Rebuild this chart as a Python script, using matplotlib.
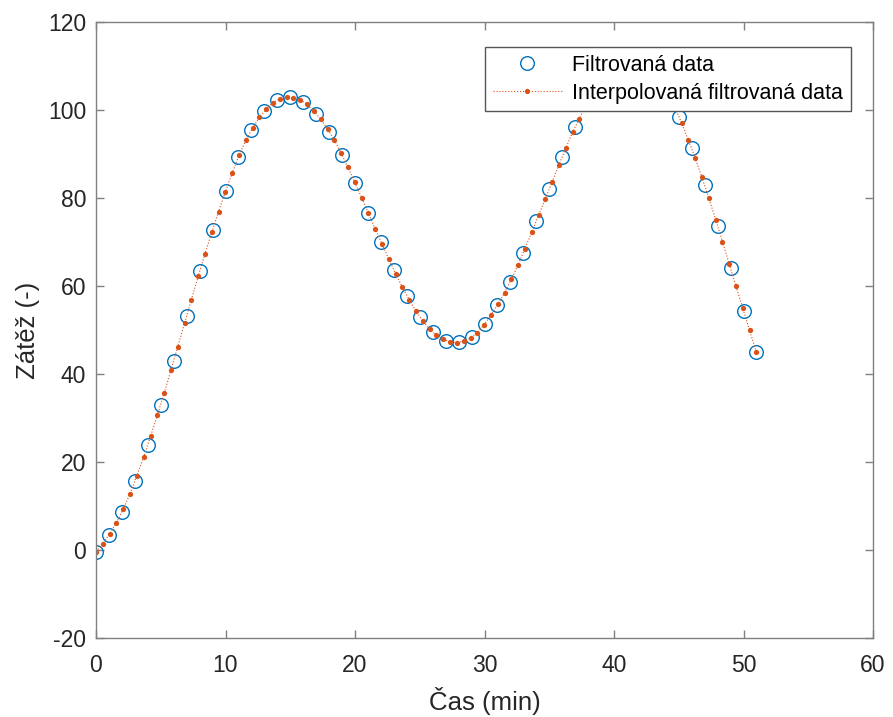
import matplotlib
matplotlib.use("Agg")
import matplotlib.pyplot as plt

plt.rcParams['font.family'] = ['Liberation Sans', 'DejaVu Sans']
plt.rcParams['axes.unicode_minus'] = False

# filtered data, one value per minute (38-44 sit under the legend)
time_min = list(range(52))
load_filt = [-0.4, 3.4, 8.6, 15.6, 23.9, 33.0, 43.0, 53.2, 63.4, 72.8,
             81.5, 89.4, 95.5, 99.8, 102.3, 102.9, 101.9, 99.1, 95.1, 89.8,
             83.5, 76.7, 70.1, 63.6, 57.8, 53.0, 49.5, 47.6, 47.2, 48.3,
             51.3, 55.7, 61.0, 67.6, 74.8, 82.0, 89.4, 96.2, 102.4, 106.8,
             109.0, 109.6, 109.0, 107.2, 104.2, 98.5, 91.3, 83.0, 73.7, 64.0,
             54.4, 44.9]

# interpolated series (98 samples between 0 and 51 min)
time_interp = [0.00, 0.53, 1.05, 1.58, 2.10, 2.63, 3.15, 3.68, 4.21, 4.73,
               5.26, 5.78, 6.31, 6.84, 7.36, 7.89, 8.41, 8.94, 9.46, 9.99,
               10.52, 11.04, 11.57, 12.09, 12.62, 13.14, 13.67, 14.20, 14.72, 15.25,
               15.77, 16.30, 16.82, 17.35, 17.88, 18.40, 18.93, 19.45, 19.98, 20.51,
               21.03, 21.56, 22.08, 22.61, 23.13, 23.66, 24.19, 24.71, 25.24, 25.76,
               26.29, 26.81, 27.34, 27.87, 28.39, 28.92, 29.44, 29.97, 30.49, 31.02,
               31.55, 32.07, 32.60, 33.12, 33.65, 34.18, 34.70, 35.23, 35.75, 36.28,
               36.80, 37.33, 37.86, 38.38, 38.91, 39.43, 39.96, 40.48, 41.01, 41.54,
               42.06, 42.59, 43.11, 43.64, 44.16, 44.69, 45.22, 45.74, 46.27, 46.79,
               47.32, 47.85, 48.37, 48.90, 49.42, 49.95, 50.47, 51.00]
load_interp = [-0.4, 1.4, 3.7, 6.2, 9.3, 12.8, 16.9, 21.1, 25.8, 30.6,
               35.6, 40.8, 46.2, 51.5, 56.9, 62.2, 67.3, 72.2, 76.9, 81.4,
               85.7, 89.7, 93.1, 95.9, 98.4, 100.2, 101.7, 102.5, 102.9, 102.8,
               102.3, 101.3, 99.7, 97.9, 95.7, 93.2, 90.2, 87.0, 83.6, 80.1,
               76.5, 73.0, 69.6, 66.1, 62.8, 59.7, 56.9, 54.3, 52.0, 50.2,
               48.8, 47.85, 47.3, 47.15, 47.45, 48.15, 49.4, 51.2, 53.3, 55.8,
               58.5, 61.5, 64.8, 68.5, 72.2, 76.1, 79.85, 83.7, 87.6, 91.3,
               95.0, 98.0, 101.5, 104.1, 106.4, 108.0, 108.9, 109.4, 109.6, 109.4,
               108.9, 108.0, 106.9, 105.4, 103.3, 100.6, 97.1, 93.2, 89.1, 84.7,
               80.0, 75.1, 70.1, 65.0, 59.9, 54.9, 49.9, 44.9]

blue = '#0072BD'
red = '#D95319'
axis_grey = '#808080'
text_col = '#262626'

fig = plt.figure(figsize=(8.93, 7.17), dpi=100)
ax = fig.add_axes([96 / 893, 1 - 638 / 717, 777 / 893, 616 / 717])

ax.plot(time_min, load_filt, linestyle='none', marker='o', ms=9.8,
        mfc='none', mec=blue, mew=1.0, label='Filtrovaná data')
ax.plot(time_interp, load_interp, linestyle=':', lw=0.8, color=red,
        marker='o', ms=3.8, mew=0, label='Interpolovaná filtrovaná data')

ax.set_xlim(0, 60)
ax.set_ylim(-20, 120)
ax.set_xticks(range(0, 61, 10))
ax.set_yticks(range(-20, 121, 20))

for s in ax.spines.values():
    s.set_color(axis_grey)
    s.set_linewidth(1.0)
ax.tick_params(direction='in', length=6, width=1.0, color=axis_grey,
               labelcolor=text_col, labelsize=16.5, top=True, right=True)
ax.tick_params(axis='x', pad=11.5)
ax.tick_params(axis='y', pad=7)

ax.set_xlabel('Čas (min)', fontsize=18.5, color=text_col, labelpad=7)
ax.set_ylabel('Zátěž (-)', fontsize=18.5, color=text_col, labelpad=6)

leg = ax.legend(loc='upper right',
                bbox_to_anchor=((851 - 96) / 777, (638 - 47) / 616),
                borderaxespad=0, fontsize=15.5, numpoints=1, fancybox=False,
                framealpha=1, edgecolor='#555555', handlelength=3.2,
                handletextpad=0.5, labelspacing=0.32, borderpad=0.36)
leg.get_frame().set_linewidth(1.0)

fig.savefig('out.png', dpi=100)
